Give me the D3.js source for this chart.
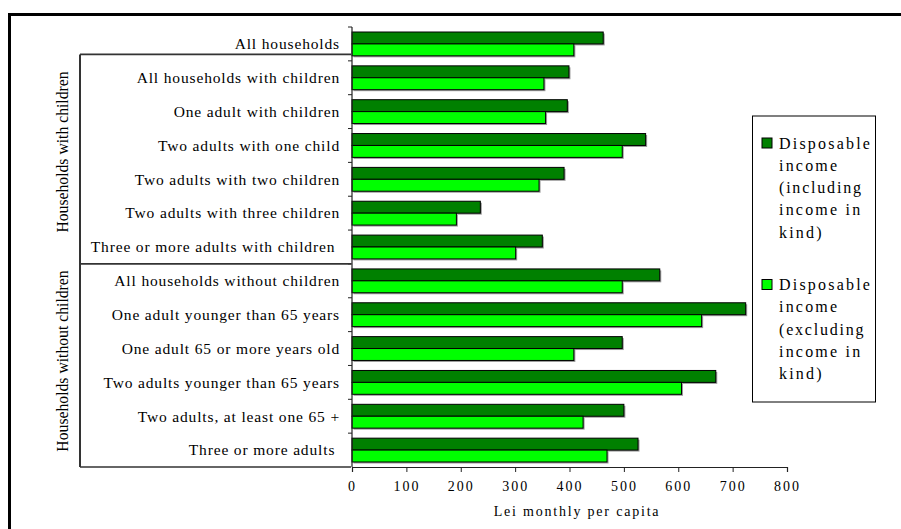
<!DOCTYPE html>
<html>
<head>
<meta charset="utf-8">
<script src="https://d3js.org/d3.v7.min.js"></script>
<style>
  html, body { margin: 0; padding: 0; background: #fff; }
  svg { display: block; }
  svg text { font-family: "Liberation Serif", "Times New Roman", "DejaVu Serif", serif !important; fill: #000; }
</style>
</head>
<body>
<svg id="chart" width="901" height="529" font-family="Liberation Serif, serif"></svg>
<script>
// ---- data ----
const categories = [
  "All households",
  "All households with children",
  "One adult with children",
  "Two adults with one child",
  "Two adults with two children",
  "Two adults with three children",
  "Three or more adults with children ",
  "All households without children",
  "One adult younger than 65 years",
  "One adult 65 or more years old",
  "Two adults younger than 65 years",
  "Two adults, at least one 65 +",
  "Three or more adults "
];
const inclInKind = [462, 399, 396, 540, 390, 236, 350, 566, 724, 497, 669, 500, 526];
const exclInKind = [408, 353, 356, 497, 344, 192, 301, 497, 643, 408, 606, 425, 469];
const seriesNames = [
  ["Disposable", "income", "(including", "income in", "kind)"],
  ["Disposable", "income", "(excluding", "income in", "kind)"]
];
const groupNames = ["Households with children", "Households without children"];
const groupRanges = [[1, 6], [7, 12]];
const xTicks = [0, 100, 200, 300, 400, 500, 600, 700, 800];
const colors = ["#008000", "#00ff00"];

// ---- layout ----
const FONT = "'Liberation Serif', 'Times New Roman', serif";
const svg = d3.select("#chart");
const plot = { left: 352, right: 787, top: 27, bottom: 467 };

const x = d3.scaleLinear().domain([0, 800]).range([plot.left, plot.right]);
const y = d3.scaleBand().domain(d3.range(categories.length))
  .range([plot.top, plot.bottom]).padding(0);
const inner = d3.scaleBand().domain([0, 1]).range([0, y.bandwidth()])
  .paddingInner(0).paddingOuter(0.42);

// outer frame (top & left)
svg.append("line").attr("x1", 9.5).attr("x2", 901).attr("y1", 14.5).attr("y2", 14.5)
  .attr("stroke", "#000").attr("stroke-width", 3);
svg.append("line").attr("x1", 9.5).attr("x2", 9.5).attr("y1", 13).attr("y2", 529)
  .attr("stroke", "#000").attr("stroke-width", 3);

// bars
const rows = categories.map((c, i) => ({ i, vals: [inclInKind[i], exclInKind[i]] }));
const g = svg.append("g");
rows.forEach(r => {
  r.vals.forEach((v, k) => {
    const yy = y(r.i) + inner(k);
    g.append("rect")
      .attr("x", x(0) + 1.5).attr("y", yy + 1.5)
      .attr("width", x(v) - x(0)).attr("height", inner.bandwidth())
      .attr("fill", "#9a9a9a");
  });
  r.vals.forEach((v, k) => {
    const yy = y(r.i) + inner(k);
    g.append("rect")
      .attr("x", x(0)).attr("y", yy)
      .attr("width", x(v) - x(0)).attr("height", inner.bandwidth())
      .attr("fill", colors[k]).attr("stroke", "#000").attr("stroke-width", 1);
  });
});

// x axis
const xAxis = svg.append("g").attr("transform", `translate(0,${plot.bottom})`)
  .call(d3.axisBottom(x).tickValues(xTicks).tickSize(5).tickPadding(9).tickFormat(d3.format("d")));
xAxis.attr("font-family", null).attr("font-size", null);
xAxis.select(".domain").attr("stroke", "#222").attr("stroke-width", 1.2);
xAxis.selectAll(".tick line").attr("stroke", "#222");
xAxis.selectAll(".tick text")
  .style("font-family", FONT).style("font-size", "14px")
  .style("letter-spacing", "2px").attr("fill", "#000");

svg.append("text").attr("x", 577).attr("y", 516).attr("text-anchor", "middle")
  .style("font-family", FONT).style("font-size", "14px").style("letter-spacing", "1.8px")
  .text("Lei monthly per capita");

// y axis line & ticks at band boundaries
svg.append("line").attr("x1", plot.left).attr("x2", plot.left)
  .attr("y1", plot.top).attr("y2", plot.bottom).attr("stroke", "#222").attr("stroke-width", 1.2);
d3.range(categories.length).forEach(i => {
  svg.append("line").attr("x1", plot.left - 4).attr("x2", plot.left)
    .attr("y1", y(i)).attr("y2", y(i)).attr("stroke", "#222").attr("stroke-width", 1);
});

// category labels
svg.append("g").selectAll("text").data(categories).join("text")
  .attr("x", 340).attr("y", (d, i) => y(i) + y.bandwidth() / 2)
  .attr("dy", "0.34em").attr("text-anchor", "end")
  .style("font-family", FONT)
  .style("font-size", "15.5px").style("letter-spacing", "0.85px")
  .style("white-space", "pre")
  .text(d => d);

// group brackets
const bx = 80;
const firstLineY = y(0) + y.bandwidth() * 0.81;
svg.append("line").attr("x1", bx).attr("x2", bx).attr("y1", firstLineY).attr("y2", plot.bottom)
  .attr("stroke", "#333").attr("stroke-width", 2);
[firstLineY, y(groupRanges[1][0]), plot.bottom].forEach(yy => {
  svg.append("line").attr("x1", bx).attr("x2", plot.left - 1).attr("y1", yy).attr("y2", yy)
    .attr("stroke", "#333").attr("stroke-width", 1.6);
});

const groupCenters = [152, 361];
groupNames.forEach((name, k) => {
  svg.append("text")
    .attr("transform", `translate(68,${groupCenters[k]}) rotate(-90)`)
    .attr("text-anchor", "middle")
    .style("font-family", FONT)
    .style("font-size", "15.7px")
    .text(name);
});

// legend
const lg = svg.append("g");
lg.append("rect").attr("x", 752.5).attr("y", 116).attr("width", 123).attr("height", 286)
  .attr("fill", "#fff").attr("stroke", "#000").attr("stroke-width", 1);
seriesNames.forEach((lines, k) => {
  const base = 148.5 + k * 141.5;
  lg.append("rect").attr("x", 762).attr("y", base - 10.5).attr("width", 10).attr("height", 10)
    .attr("fill", colors[k]).attr("stroke", "#000").attr("stroke-width", 1);
  lines.forEach((t, j) => {
    lg.append("text").attr("x", 779).attr("y", base + j * 22.3)
      .style("font-family", FONT)
      .style("font-size", "16px").style("letter-spacing", t.startsWith("(") ? "1.8px" : "2.2px")
      .text(t);
  });
});
</script>
</body>
</html>
